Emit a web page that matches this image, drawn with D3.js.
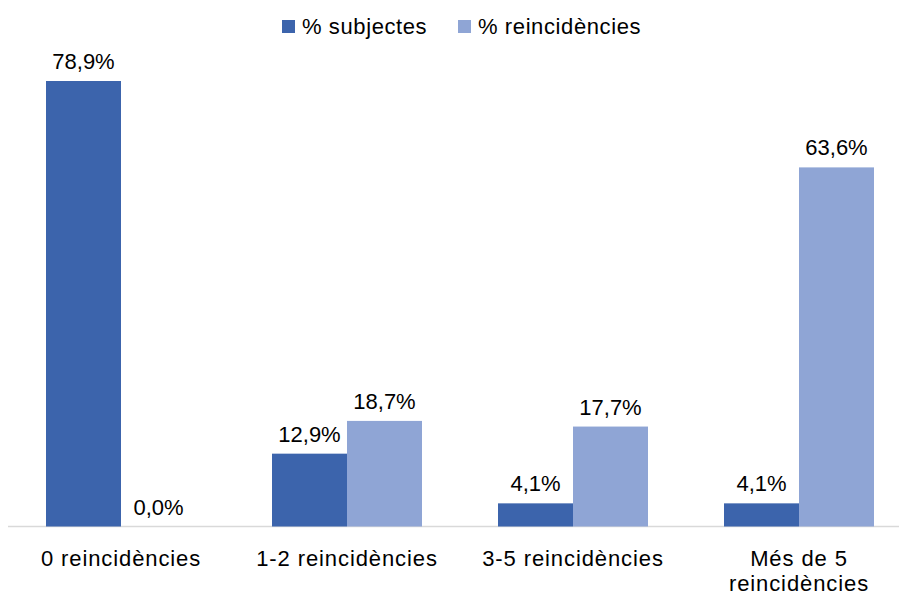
<!DOCTYPE html>
<html><head><meta charset="utf-8">
<script src="https://cdn.jsdelivr.net/npm/d3@7"></script>
<style>body{margin:0;background:#fff;}svg{display:block;font-family:"Liberation Sans",Arial,sans-serif;}</style>
</head><body><svg id="c" width="899" height="595"></svg>
<script>
const categories = [["0 reincidències"], ["1-2 reincidències"], ["3-5 reincidències"], ["Més de 5", "reincidències"]];
const seriesNames = ["% subjectes", "% reincidències"];
const subjectes = [78.9, 12.9, 4.1, 4.1];
const reincidencies = [0.0, 18.7, 17.7, 63.6];
const colors = ["#3C64AC", "#8FA5D5"];

const svg = d3.select("#c");
const base = 526.5;
const x = d3.scaleBand().domain(d3.range(categories.length)).range([8, 912]).paddingInner(0).paddingOuter(0);
const barW = 75;
const y = d3.scaleLinear().domain([0, 78.9]).range([base, 81]);
const fmt = v => v.toFixed(1).replace(".", ",") + "%";

svg.append("line").attr("x1", 8).attr("x2", 899).attr("y1", base).attr("y2", base)
  .attr("stroke", "#D9D9D9").attr("stroke-width", 1.5);

const series = [subjectes, reincidencies];
series.forEach((vals, s) => {
  vals.forEach((v, i) => {
    const cx = x(i) + x.bandwidth() / 2;
    const bx = cx - barW + s * barW;
    svg.append("rect").attr("x", bx).attr("y", y(v)).attr("width", barW)
      .attr("height", base - y(v)).attr("fill", colors[s]);
    svg.append("text").attr("x", bx + barW / 2).attr("y", y(v) - 12)
      .attr("text-anchor", "middle").attr("font-size", 22).attr("fill", "#000").text(fmt(v));
  });
});

categories.forEach((lines, i) => {
  const cx = x(i) + x.bandwidth() / 2;
  lines.forEach((l, j) => {
    svg.append("text").attr("x", cx).attr("y", 566 + j * 24.5).attr("text-anchor", "middle")
      .attr("font-size", 22).attr("letter-spacing", 0.9).attr("fill", "#000").text(l);
  });
});

const legX = [282, 458];
seriesNames.forEach((n, s) => {
  svg.append("rect").attr("x", legX[s]).attr("y", 20).attr("width", 13).attr("height", 13).attr("fill", colors[s]);
  svg.append("text").attr("x", legX[s] + 20).attr("y", 34).attr("font-size", 22).attr("letter-spacing", 0.6).attr("fill", "#000").text(n);
});
</script></body></html>
